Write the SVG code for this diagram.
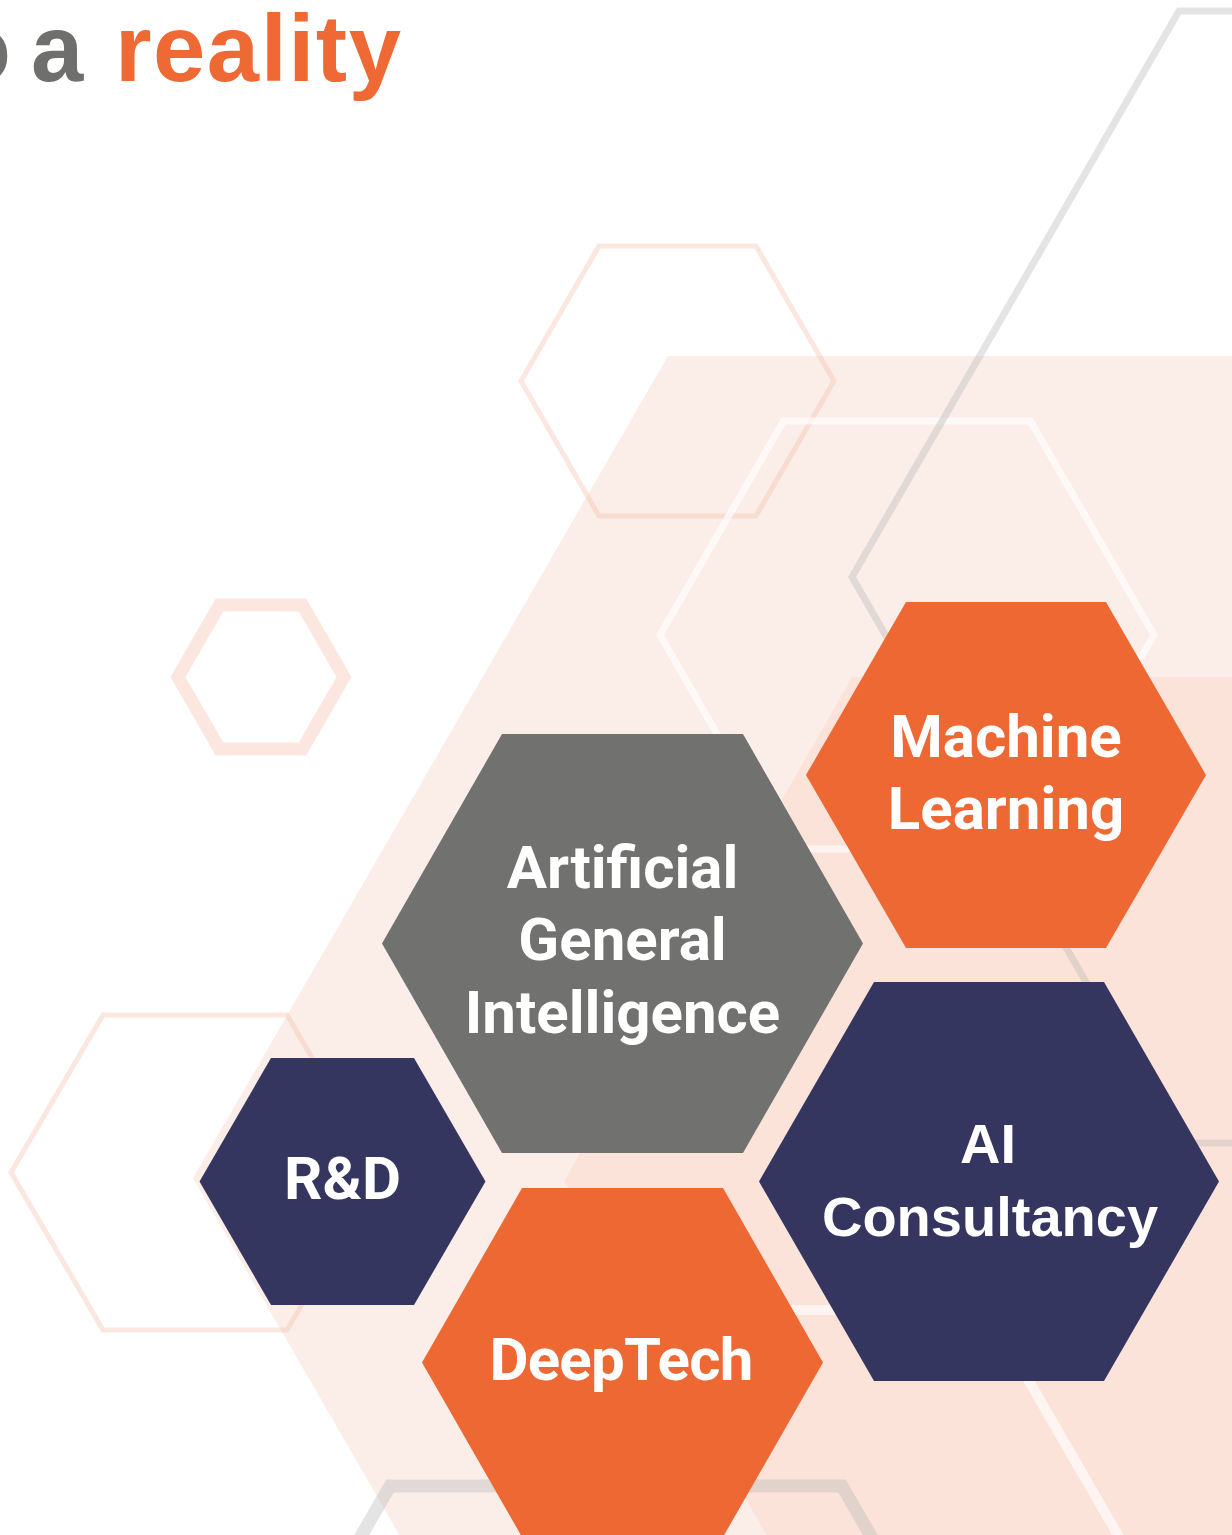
<svg xmlns="http://www.w3.org/2000/svg" width="1232" height="1535" viewBox="0 0 1232 1535">
  <style>
    .lbl { font-family: Roboto, "Liberation Sans", sans-serif; font-weight: 700; font-size: 60px; fill: #ffffff; text-anchor: middle; }
    .lbl2 { font-family: "Liberation Sans", Arial, sans-serif; font-weight: 700; font-size: 56px; fill: #ffffff; text-anchor: middle; }
    .title { font-family: "Liberation Sans", Arial, sans-serif; font-weight: 700; font-size: 94px; }
    .gray { fill: #6f706e; }
    .orange { fill: #ee6933; }
    .ol-pink { fill: none; stroke: #f4b9a4; stroke-opacity: 0.35; }
    .ol-gray { fill: none; stroke: #b5b8b5; stroke-opacity: 0.38; }
    .ol-white { fill: none; stroke: #ffffff; stroke-opacity: 0.65; }
    .hex-gray { fill: #717270; }
    .hex-orange { fill: #ee6833; }
    .hex-navy { fill: #35365f; }
  </style>
  <rect x="0" y="0" width="1232" height="1535" fill="#ffffff"/>

  <g id="background">
    <polygon points="668,356 1618,356 2093,1178 1618,2000 668,2000 193,1178" fill="#fbeee9"/>
    <polygon points="852,677 1428,677 1716,1181 1428,1685 852,1685 564,1181" fill="#fce3da"/>
    <polygon class="ol-pink" stroke-width="5" points="599,246 756,246 834,381 756,516 599,516 521,381"/>
    <polygon class="ol-pink" stroke-width="13" points="219.5,605 302.5,605 344,677 302.5,749 219.5,749 178,677"/>
    <polygon class="ol-pink" stroke-width="5" points="103,1015 287,1015 379,1172.5 287,1330 103,1330 11,1172.5"/>
    <polygon class="ol-white" stroke-width="7" points="783.5,421 1030.5,421 1154,635 1030.5,849 783.5,849 660,635"/>
    <polygon class="ol-white" stroke-width="10" points="708,1310 988,1310 1128,1552.5 988,1795 708,1795 568,1552.5"/>
    <polygon class="ol-gray" stroke-width="7" points="1179,11 1832,11 2159,577 1832,1143 1179,1143 852,577"/>
    <polygon class="ol-gray" stroke-width="13" stroke-opacity="0.28" points="390,1486 842,1486 1068,1877 842,2268 390,2268 164,1877"/>
  </g>

  <g id="title">
    <text class="title gray" x="-35" y="-21">g</text>
    <text class="title gray" x="145" y="-21">g</text>
    <text class="title gray" x="230" y="-21">g</text>
    <text class="title gray" x="11" y="81" text-anchor="end">to</text>
    <text class="title gray" x="31" y="81">a</text>
    <text class="title orange" x="115" y="81" letter-spacing="1.5">reality</text>
  </g>

  <g id="connectors"></g>

  <g id="node-agi">
    <polygon class="hex-gray" points="502,734 743,734 863,943.5 743,1153 502,1153 382,943.5"/>
    <text class="lbl" x="622.5" y="888">Artificial</text>
    <text class="lbl" x="622.5" y="960">General</text>
    <text class="lbl" x="622.5" y="1033">Intelligence</text>
  </g>

  <g id="node-ml">
    <polygon class="hex-orange" points="906,602 1106,602 1206,775 1106,948 906,948 806,775"/>
    <text class="lbl" x="1006" y="757">Machine</text>
    <text class="lbl" x="1006" y="829">Learning</text>
  </g>

  <g id="node-rd">
    <polygon class="hex-navy" points="271,1058 414,1058 485.5,1181.5 414,1305 271,1305 199.5,1181.5"/>
    <text class="lbl" x="342.5" y="1199">R&amp;D</text>
  </g>

  <g id="node-deeptech">
    <polygon class="hex-orange" points="522,1188 723,1188 823,1362.5 723,1537 522,1537 422,1362.5"/>
    <text class="lbl" x="621" y="1380" letter-spacing="-0.8">DeepTech</text>
  </g>

  <g id="node-ai">
    <polygon class="hex-navy" points="874,982 1104,982 1219,1181.5 1104,1381 874,1381 759,1181.5"/>
    <text class="lbl2" x="988" y="1163">AI</text>
    <text class="lbl2" x="990" y="1236">Consultancy</text>
  </g>
</svg>
